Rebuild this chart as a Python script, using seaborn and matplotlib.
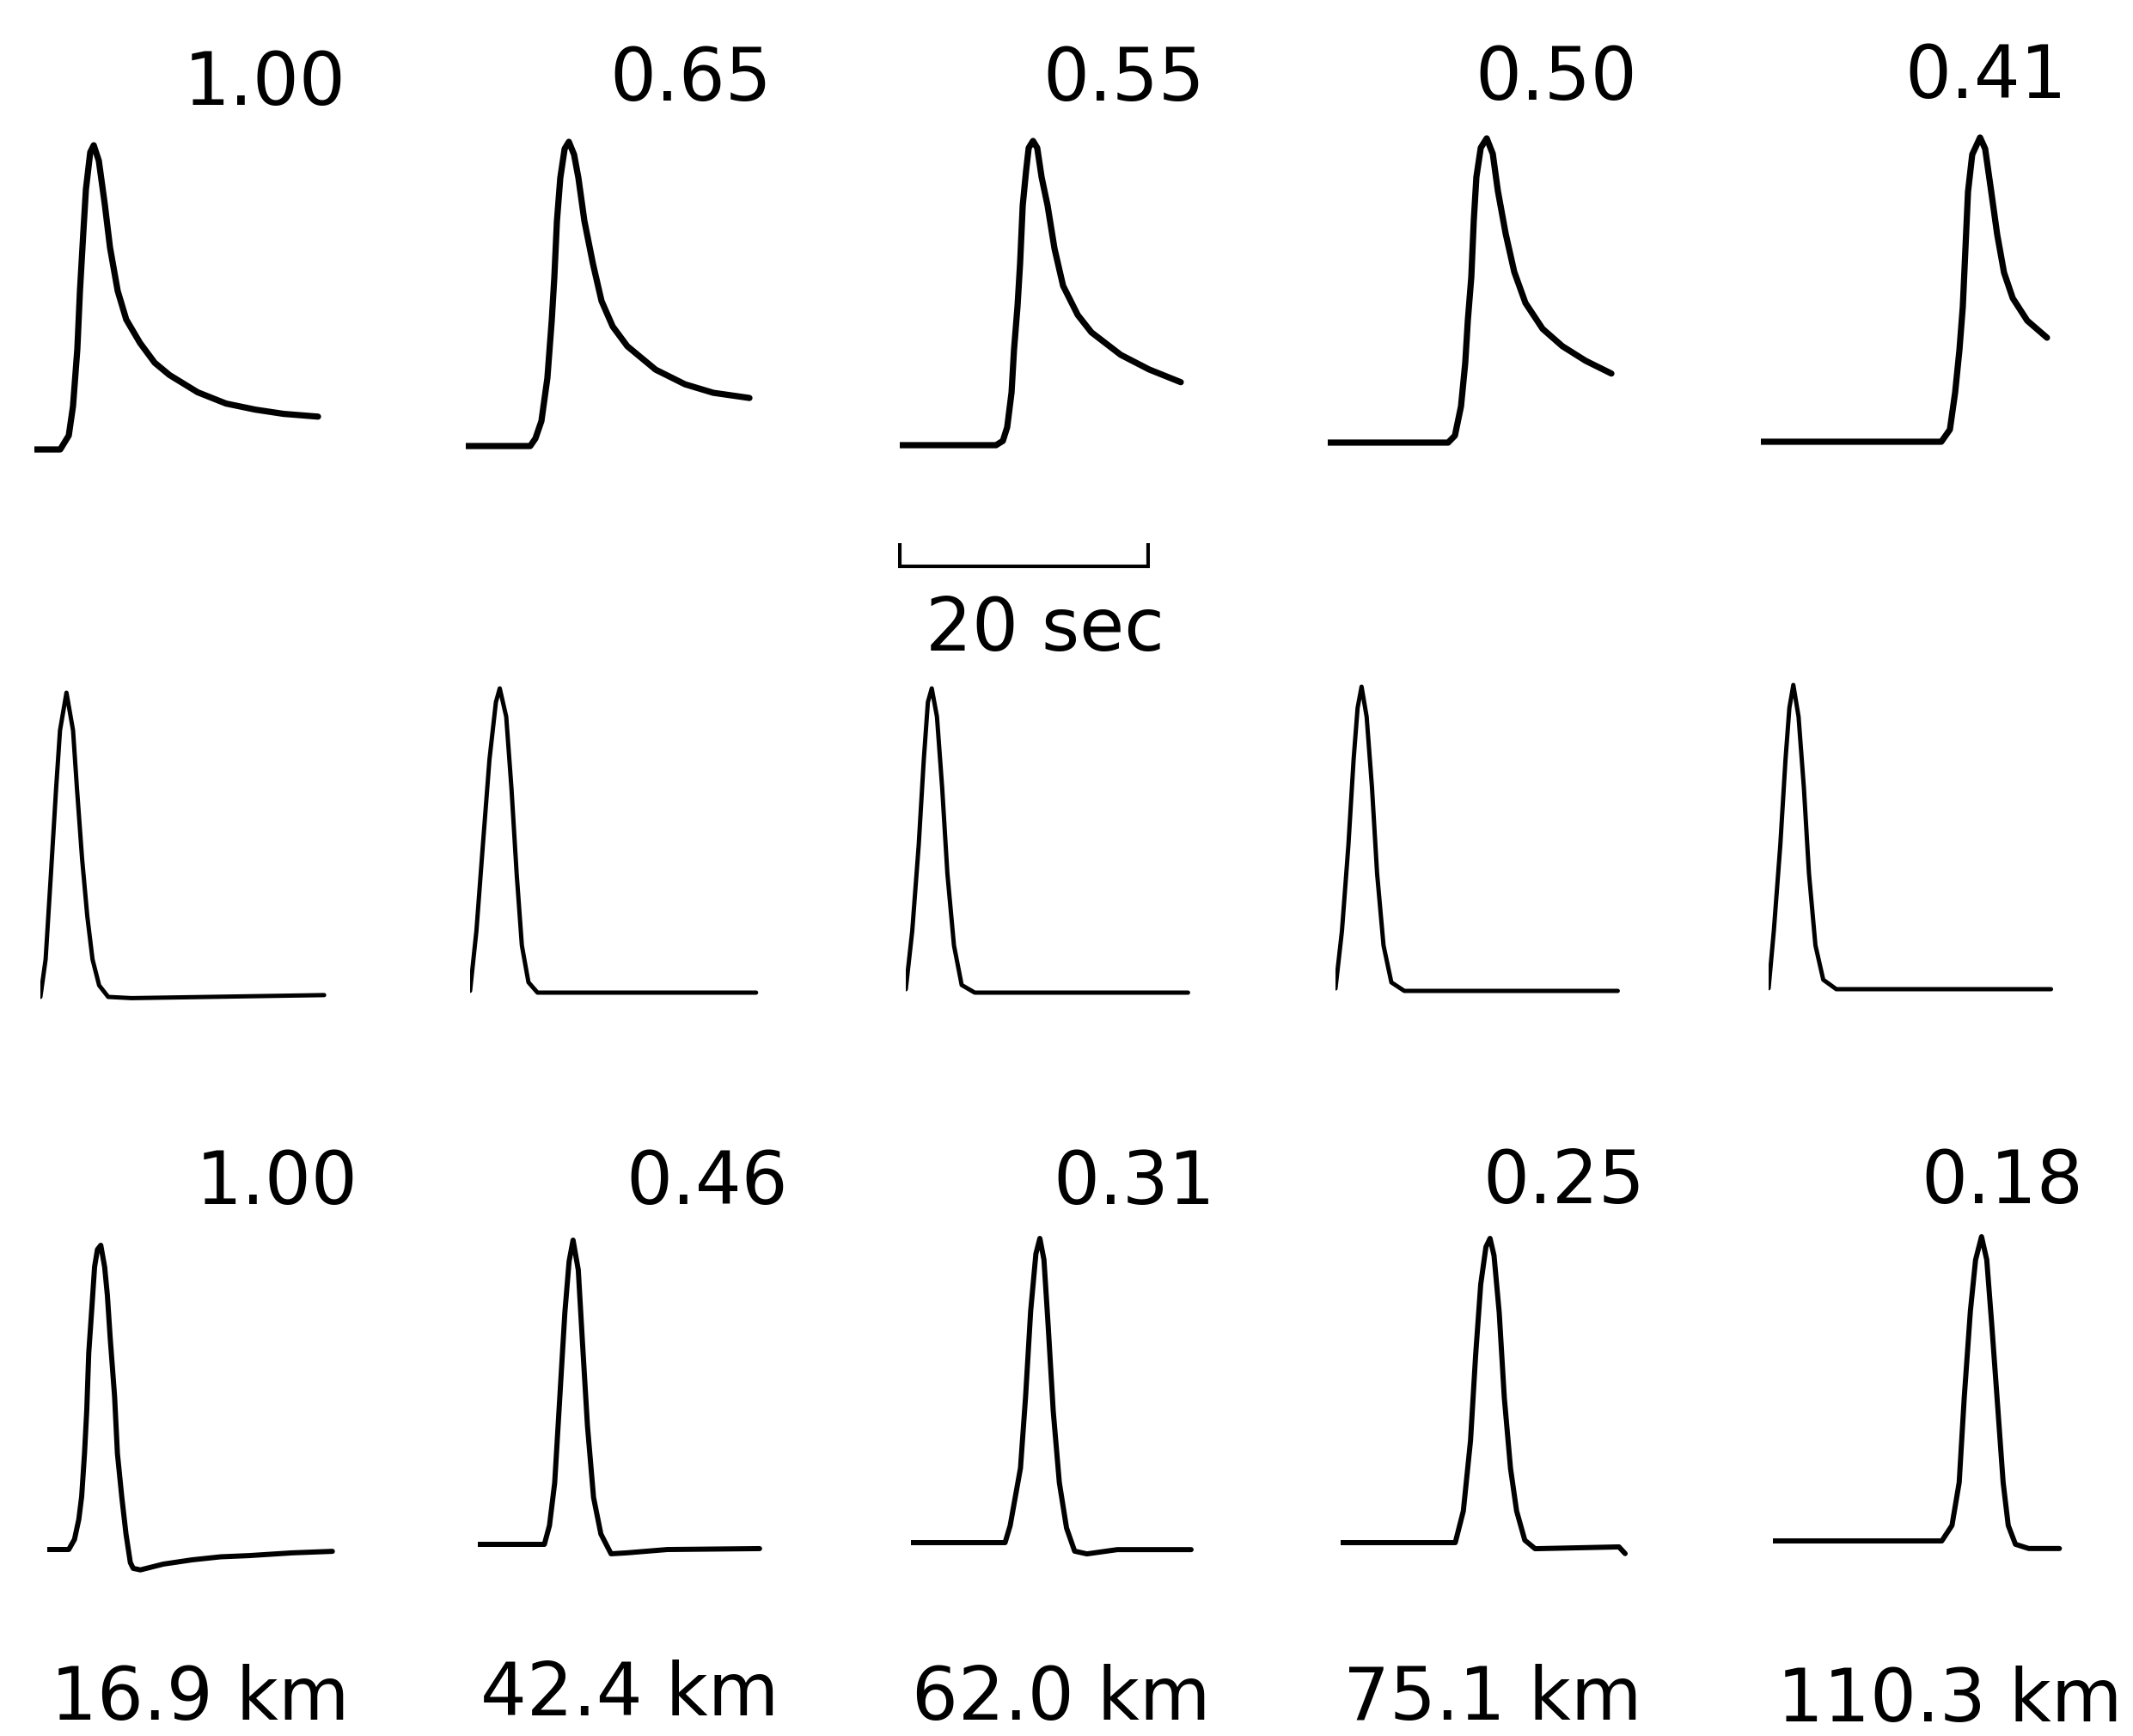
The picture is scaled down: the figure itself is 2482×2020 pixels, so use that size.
import matplotlib
matplotlib.use('Agg')
import matplotlib.pyplot as plt
import seaborn as sns

# amplitude ratios printed above the traces
top_ratio = ['1.00', '0.65', '0.55', '0.50', '0.41']
bottom_ratio = ['1.00', '0.46', '0.31', '0.25', '0.18']
distance = ['16.9 km', '42.4 km', '62.0 km', '75.1 km', '110.3 km']

# waveforms: time (s) from start of trace, amplitude / peak
top_times = [
    [0, 2.08, 2.77, 3.11, 3.46, 3.67, 3.94, 4.15, 4.50, 4.78, 5.19, 5.67, 6.09, 6.71, 7.40, 8.51, 9.69, 10.87, 13.15, 15.43, 17.79, 20.07, 22.84],
    [0, 5.19, 5.61, 6.09, 6.57, 6.92, 7.13, 7.34, 7.61, 7.96, 8.30, 8.72, 9.07, 9.55, 10.24, 10.93, 11.83, 13.01, 15.29, 17.65, 19.93, 22.84],
    [0, 7.75, 8.30, 8.65, 9.00, 9.20, 9.48, 9.69, 9.90, 10.17, 10.38, 10.73, 11.07, 11.42, 11.90, 12.46, 13.15, 14.33, 15.43, 17.79, 20.07, 22.63],
    [0, 9.69, 10.24, 10.73, 11.07, 11.28, 11.56, 11.76, 11.97, 12.32, 12.80, 13.29, 13.70, 14.33, 15.02, 15.92, 17.30, 18.89, 20.76, 22.84],
    [0, 14.53, 15.22, 15.64, 15.99, 16.26, 16.47, 16.68, 17.02, 17.65, 18.06, 18.55, 19.03, 19.58, 20.28, 21.45, 23.04],
]
top_amps = [
    [0, 0, 0.046, 0.142, 0.330, 0.521, 0.712, 0.855, 0.977, 1.0, 0.949, 0.806, 0.664, 0.521, 0.427, 0.350, 0.285, 0.245, 0.188, 0.151, 0.131, 0.117, 0.108],
    [0, 0, 0.025, 0.082, 0.223, 0.412, 0.554, 0.740, 0.881, 0.977, 1.0, 0.958, 0.881, 0.740, 0.599, 0.477, 0.393, 0.328, 0.251, 0.203, 0.175, 0.158],
    [0, 0, 0.014, 0.059, 0.173, 0.314, 0.456, 0.598, 0.788, 0.901, 0.977, 1.0, 0.977, 0.881, 0.788, 0.646, 0.524, 0.428, 0.371, 0.297, 0.249, 0.207],
    [0, 0, 0.023, 0.119, 0.261, 0.402, 0.544, 0.731, 0.873, 0.969, 1.0, 0.949, 0.827, 0.686, 0.561, 0.459, 0.374, 0.317, 0.269, 0.227],
    [0, 0, 0.040, 0.161, 0.302, 0.444, 0.633, 0.822, 0.944, 1.0, 0.963, 0.822, 0.681, 0.556, 0.472, 0.398, 0.342],
]

mid_times = [
    [0, 0.42, 0.85, 1.27, 1.58, 2.10, 2.63, 2.94, 3.36, 3.78, 4.20, 4.73, 5.46, 7.34, 22.85],
    [0, 0.51, 1.03, 1.56, 2.08, 2.39, 2.91, 3.33, 3.75, 4.17, 4.70, 5.43, 23.03],
    [0, 0.52, 1.04, 1.45, 1.78, 2.09, 2.51, 2.93, 3.35, 3.88, 4.50, 5.55, 22.73],
    [0, 0.52, 1.04, 1.46, 1.78, 2.10, 2.51, 2.94, 3.35, 3.87, 4.50, 5.54, 22.73],
    [0, 0.42, 0.94, 1.36, 1.67, 1.99, 2.41, 2.84, 3.25, 3.77, 4.40, 5.45, 22.74],
]
mid_amps = [
    [0, 0.123, 0.405, 0.688, 0.876, 1.0, 0.876, 0.688, 0.453, 0.264, 0.123, 0.038, 0, -0.004, 0.006],
    [0.006, 0.203, 0.485, 0.766, 0.955, 1.0, 0.907, 0.673, 0.391, 0.155, 0.034, 0, 0],
    [0.011, 0.203, 0.485, 0.766, 0.955, 1.0, 0.907, 0.673, 0.391, 0.155, 0.025, 0, 0],
    [0.008, 0.197, 0.479, 0.761, 0.930, 1.0, 0.901, 0.668, 0.386, 0.149, 0.028, 0, 0],
    [0.003, 0.192, 0.473, 0.755, 0.924, 1.0, 0.896, 0.662, 0.380, 0.144, 0.031, 0, 0],
]

bot_times = [
    [0, 1.73, 2.19, 2.54, 2.77, 3.00, 3.18, 3.34, 3.58, 3.81, 4.04, 4.31, 4.62, 4.84, 5.07, 5.42, 5.65, 6.00, 6.34, 6.69, 6.92, 7.50, 9.34, 11.65, 13.96, 16.26, 19.72, 22.96],
    [0, 5.36, 5.77, 6.19, 6.60, 7.01, 7.35, 7.67, 8.09, 8.42, 8.83, 9.32, 9.91, 10.73, 11.97, 15.27, 22.69],
    [0, 7.58, 7.99, 8.82, 9.23, 9.64, 10.06, 10.38, 10.71, 11.05, 11.46, 11.95, 12.53, 13.18, 14.17, 16.62, 22.56],
    [0, 9.23, 9.88, 10.46, 10.87, 11.28, 11.70, 12.03, 12.35, 12.77, 13.18, 13.68, 14.17, 14.83, 15.66, 22.41, 22.91],
    [0, 13.60, 14.42, 15.00, 15.41, 15.90, 16.32, 16.80, 17.22, 17.63, 18.13, 18.54, 18.95, 19.53, 20.60, 23.07],
]
bot_amps = [
    [0, 0, 0.033, 0.099, 0.174, 0.316, 0.458, 0.646, 0.788, 0.929, 0.986, 1.0, 0.929, 0.836, 0.694, 0.504, 0.315, 0.173, 0.051, -0.043, -0.062, -0.067, -0.048, -0.034, -0.024, -0.020, -0.011, -0.006],
    [0, 0, 0.062, 0.202, 0.482, 0.762, 0.930, 1.0, 0.902, 0.669, 0.389, 0.154, 0.034, -0.031, -0.028, -0.017, -0.014],
    [0, 0, 0.056, 0.245, 0.479, 0.761, 0.949, 1.0, 0.930, 0.713, 0.431, 0.197, 0.048, -0.028, -0.037, -0.023, -0.023],
    [0, 0, 0.104, 0.336, 0.616, 0.849, 0.972, 1.0, 0.944, 0.756, 0.476, 0.244, 0.104, 0.008, -0.020, -0.014, -0.036],
    [0, 0, 0.051, 0.192, 0.473, 0.755, 0.924, 1.0, 0.924, 0.707, 0.425, 0.192, 0.051, -0.011, -0.025, -0.025],
]

scale_sec = 20

# layout (pixels): start of each trace and its baseline
W, H = 2482, 2020
PX_SEC = 14.45
PX_AMP = 354
top_origin = [(40, 523), (542, 519), (1047, 518), (1545, 515), (2049, 514)]
mid_origin = [(47, 1160), (547, 1155), (1054, 1155), (1554, 1153), (2058, 1151)]
bot_origin = [(55, 1803), (556, 1797), (1060, 1795), (1560, 1795), (2063, 1793)]
top_label_pos = [(308, 122), (804, 117), (1308, 117), (1811, 116), (2311, 114)]
bot_label_pos = [(322, 1401), (823, 1401), (1320, 1401), (1820, 1400), (2330, 1400)]
dist_pos = [(233, 2001), (733, 1996), (1235, 2001), (1737, 2001), (2269, 2003)]

sns.set_theme(style='white')
plt.rcParams['font.family'] = ['DejaVu Sans']
plt.rcParams['text.color'] = 'black'

fig = plt.figure(figsize=(W / 100, H / 100), dpi=100)


def panel(x0, y0, tmax=24.0):
    lo, hi = -0.15, 1.10
    ax = fig.add_axes([x0 / W, 1 - (y0 - lo * PX_AMP) / H,
                       tmax * PX_SEC / W, (hi - lo) * PX_AMP / H])
    ax.set_xlim(0, tmax)
    ax.set_ylim(lo, hi)
    ax.axis('off')
    return ax


rows = [(top_times, top_amps, top_origin, 5.2),
        (mid_times, mid_amps, mid_origin, 3.6),
        (bot_times, bot_amps, bot_origin, 4.3)]
for times, amps, origin, lw in rows:
    for t, a, (x0, y0) in zip(times, amps, origin):
        ax = panel(x0, y0)
        sns.lineplot(x=t, y=a, ax=ax, color='black', linewidth=lw,
                     estimator=None, sort=False, solid_joinstyle='round')

# 20 sec scale bar
ax = panel(1045, 659, tmax=scale_sec + 0.3)
tick = 27 / PX_AMP
ax.set_xlim(-0.15, scale_sec + 0.15)
ax.plot([0, 0, scale_sec, scale_sec], [tick, 0, 0, tick], color='black',
        linewidth=3.0, solid_joinstyle='miter', solid_capstyle='butt')

fs = 61
for s, (x, y) in zip(top_ratio, top_label_pos):
    fig.text(x / W, 1 - y / H, s, ha='center', va='baseline', fontsize=fs)
for s, (x, y) in zip(bottom_ratio, bot_label_pos):
    fig.text(x / W, 1 - y / H, s, ha='center', va='baseline', fontsize=fs)
for s, (x, y) in zip(distance, dist_pos):
    fig.text(x / W, 1 - y / H, s, ha='center', va='baseline', fontsize=fs)
fig.text(1216 / W, 1 - 757 / H, f'{scale_sec} sec', ha='center', va='baseline', fontsize=fs)

fig.savefig('out.png', dpi=100, facecolor='white')
